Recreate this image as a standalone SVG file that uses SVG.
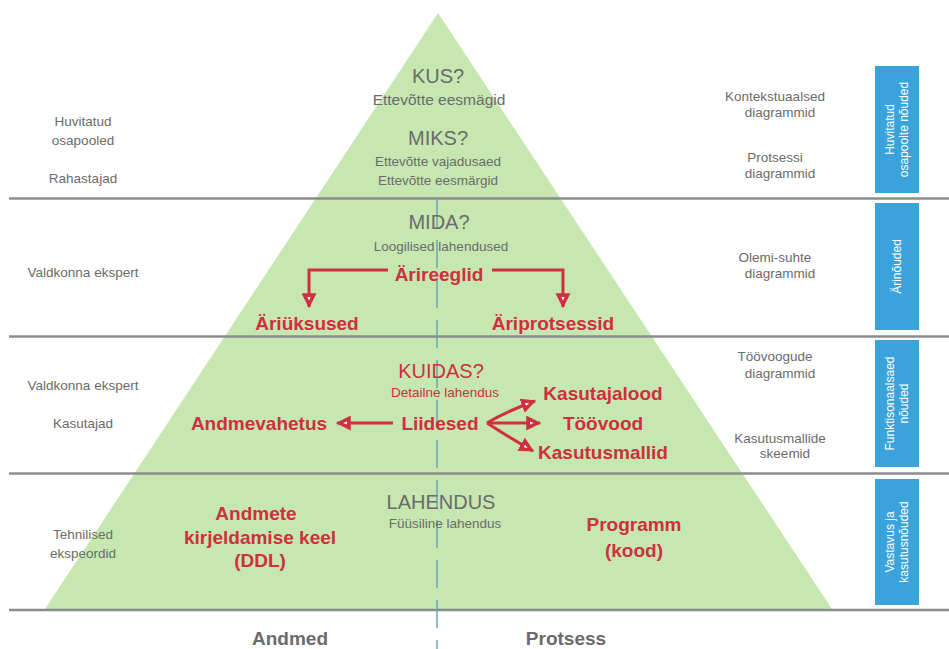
<svg xmlns="http://www.w3.org/2000/svg" width="949" height="649" viewBox="0 0 949 649">
  <style>
    .gray { font-family: "Liberation Sans", Arial, sans-serif; fill: #6b6b6b; text-anchor: middle; }
    .side { font-size: 13.5px; }
    .q { font-size: 20px; }
    .sub { font-size: 13.5px; }
    .red { font-family: "Liberation Sans", Arial, sans-serif; fill: #cf2f3f; text-anchor: middle; }
    .big { font-size: 19px; font-weight: bold; }
    .axis { font-size: 19px; font-weight: bold; }
    .sep { stroke: #8c8c8c; stroke-width: 2.5; }
    .band { fill: #3aa3dc; }
    .bandtxt { font-family: "Liberation Sans", Arial, sans-serif; fill: #ffffff; font-size: 12px; text-anchor: middle; }
    .conn { fill: none; stroke: #cf2f3f; stroke-width: 3; }
  </style>
  <defs>
    <marker id="arrow" viewBox="0 0 12 12" refX="11" refY="6" markerWidth="5" markerHeight="5" orient="auto" markerUnits="strokeWidth">
      <polygon points="0,0 12,6 0,12" fill="#cf2f3f"/>
      <polygon points="3,4.8 6,6 3,7.2" fill="#ffffff"/>
    </marker>
  </defs>

  <rect width="949" height="649" fill="#ffffff"/>

  <!-- pyramid -->
  <polygon id="pyramid" points="438,13 45,609 832,609" fill="#c6e7b0"/>

  <!-- layer separators -->
  <g id="separators">
    <line class="sep" x1="9" y1="198.5" x2="949" y2="198.5"/>
    <line class="sep" x1="9" y1="336.5" x2="949" y2="336.5"/>
    <line class="sep" x1="9" y1="473.5" x2="949" y2="473.5"/>
    <line class="sep" x1="9" y1="610" x2="949" y2="610"/>
  </g>

  <!-- data / process divider -->
  <line id="divider" x1="437" y1="200" x2="437" y2="649" stroke="#6aa8b4" stroke-width="1.5" stroke-dasharray="28 12"/>

  <!-- level headings -->
  <g id="kus">
    <text class="gray q" x="438" y="83">KUS?</text>
    <text class="gray" x="439" y="105" font-size="15.5">Ettevõtte eesmägid</text>
  </g>
  <g id="miks">
    <text class="gray q" x="438" y="145">MIKS?</text>
    <text class="gray sub" x="438" y="166">Ettevõtte vajadusaed</text>
    <text class="gray sub" x="438" y="185">Ettevõtte eesmärgid</text>
  </g>
  <g id="mida">
    <text class="gray q" x="439" y="229">MIDA?</text>
    <text class="gray sub" x="441" y="251">Loogilised lahendused</text>
  </g>
  <g id="kuidas">
    <text class="red q" x="441" y="378">KUIDAS?</text>
    <text class="red sub" x="445" y="397">Detailne lahendus</text>
  </g>
  <g id="lahendus">
    <text class="gray q" x="441" y="509">LAHENDUS</text>
    <text class="gray sub" x="445" y="528">Füüsiline lahendus</text>
  </g>

  <!-- red nodes -->
  <g id="arireeglid"><text class="red big" x="439" y="281">Ärireeglid</text></g>
  <g id="ariuksused"><text class="red big" x="307" y="330">Äriüksused</text></g>
  <g id="ariprotsessid"><text class="red big" x="553" y="330">Äriprotsessid</text></g>
  <g id="liidesed"><text class="red big" x="440" y="430">Liidesed</text></g>
  <g id="andmevahetus"><text class="red big" x="259" y="430">Andmevahetus</text></g>
  <g id="kasutajalood"><text class="red big" x="603" y="400">Kasutajalood</text></g>
  <g id="toovood"><text class="red big" x="603" y="430">Töövood</text></g>
  <g id="kasutusmallid"><text class="red big" x="603" y="459">Kasutusmallid</text></g>
  <g id="ddl">
    <text class="red big" x="256" y="520">Andmete</text>
    <text class="red big" x="260" y="544">kirjeldamise keel</text>
    <text class="red big" x="260" y="567">(DDL)</text>
  </g>
  <g id="programm">
    <text class="red big" x="634" y="531">Programm</text>
    <text class="red big" x="634" y="557">(kood)</text>
  </g>

  <!-- connectors -->
  <g id="connectors">
    <polyline class="conn" points="388,270 309,270 309,307" marker-end="url(#arrow)"/>
    <polyline class="conn" points="492,270 563,270 563,307" marker-end="url(#arrow)"/>
    <line class="conn" x1="393" y1="423" x2="337" y2="423" marker-end="url(#arrow)"/>
    <path class="conn" d="M487,423 Q505,412 535,401" marker-end="url(#arrow)"/>
    <line class="conn" x1="487" y1="423" x2="540" y2="423" marker-end="url(#arrow)"/>
    <path class="conn" d="M487,423 Q507,436 533,451" marker-end="url(#arrow)"/>
  </g>

  <!-- stakeholders -->
  <g id="stakeholders">
    <text class="gray side" x="83" y="126">Huvitatud</text>
    <text class="gray side" x="83" y="145">osapooled</text>
    <text class="gray side" x="83" y="183">Rahastajad</text>
    <text class="gray side" x="83" y="277">Valdkonna ekspert</text>
    <text class="gray side" x="83" y="390">Valdkonna ekspert</text>
    <text class="gray side" x="83" y="428">Kasutajad</text>
    <text class="gray side" x="83" y="539">Tehnilised</text>
    <text class="gray side" x="83" y="558">ekspeordid</text>
  </g>

  <!-- diagram types -->
  <g id="diagram-types">
    <text class="gray side" x="775" y="101">Kontekstuaalsed</text>
    <text class="gray side" x="780" y="117">diagrammid</text>
    <text class="gray side" x="775" y="162">Protsessi</text>
    <text class="gray side" x="780" y="178">diagrammid</text>
    <text class="gray side" x="775" y="262">Olemi-suhte</text>
    <text class="gray side" x="780" y="278">diagrammid</text>
    <text class="gray side" x="775" y="361">Töövoogude</text>
    <text class="gray side" x="780" y="378">diagrammid</text>
    <text class="gray side" x="780" y="443">Kasutusmallide</text>
    <text class="gray side" x="785" y="458">skeemid</text>
  </g>

  <!-- requirement bands -->
  <g id="band-huvitatud">
    <rect class="band" x="875" y="66" width="44" height="127"/>
    <text class="bandtxt" transform="translate(897,129.5) rotate(-90)"><tspan x="0" y="-3">Huvitatud</tspan><tspan x="0" y="11">osapoolte nõuded</tspan></text>
  </g>
  <g id="band-ari">
    <rect class="band" x="875" y="203" width="44" height="127"/>
    <text class="bandtxt" transform="translate(897,266.5) rotate(-90)" y="4">Ärinõuded</text>
  </g>
  <g id="band-funktsionaalsed">
    <rect class="band" x="875" y="340" width="44" height="127"/>
    <text class="bandtxt" transform="translate(897,403.5) rotate(-90)"><tspan x="0" y="-3">Funktisonaalsaed</tspan><tspan x="0" y="11">nõuded</tspan></text>
  </g>
  <g id="band-vastavus">
    <rect class="band" x="875" y="479" width="44" height="126"/>
    <text class="bandtxt" transform="translate(897,542) rotate(-90)"><tspan x="0" y="-3">Vastavus ja</tspan><tspan x="0" y="11">kasutusnõuded</tspan></text>
  </g>

  <!-- axis labels -->
  <g id="axis">
    <text class="gray axis" x="290" y="645">Andmed</text>
    <text class="gray axis" x="566" y="645">Protsess</text>
  </g>
</svg>
